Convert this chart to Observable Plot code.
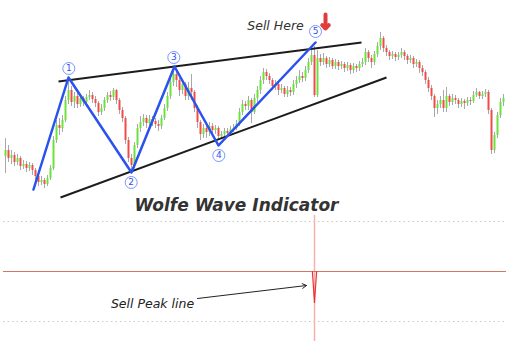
<!DOCTYPE html>
<html><head><meta charset="utf-8">
<script src="https://cdn.jsdelivr.net/npm/d3@7"></script>
<script src="https://cdn.jsdelivr.net/npm/@observablehq/plot@0.6"></script>
<style>body{margin:0;background:#fff;} #chart svg{display:block;}</style>
</head><body><div id="chart"></div>
<script>
// Candles (bar index, price units)
const open = [44,50,42,45,38,42,34,36,32,35, 30,24,18,20,16,22,32,60,75,72, 80,100,110,98,104,96,102,98,103,105, 101,97,88,92,100,105,103,110,100,90, 82,60,42,35,55,72,78,82,77,81, 79,76,74,82,92,104,118,126,120,110, 116,104,112,108,92,78,66,72,68,74, 70,72,64,66,69,67,71,72,76,88, 96,94,100,88,102,110,120,128,124,120, 114,116,110,112,106,110,108,116,120,124, 122,130,138,145,105,142,138,142,136,140, 134,138,134,136,132,135,130,134,132,136, 138,148,142,138,146,154,162,152,148,144, 146,143,145,148,144,140,142,136,138,132, 128,120,112,104,92,96,100,92,104,98, 102,100,96,99,97,100,99,105,108,104, 106,108,90,50,65,85,98];
const close = [50,42,45,38,42,34,36,32,35,30, 24,18,20,16,22,32,60,75,72,80, 100,110,98,104,96,102,98,103,105,101, 97,88,92,100,105,103,110,100,90,82, 60,42,35,55,72,78,82,77,81,79, 76,74,82,92,104,118,126,120,110,116, 104,112,108,92,78,66,72,68,74,70, 72,64,66,69,67,71,72,76,88,96, 94,100,88,102,110,120,128,124,120,114, 116,110,112,106,110,108,116,120,124,122, 130,138,145,105,142,138,142,136,140,134, 138,134,136,132,135,130,134,132,136,138, 148,142,138,146,154,162,152,148,144,146, 143,145,148,144,140,142,136,138,132,128, 120,112,104,92,96,100,92,104,98,102, 100,96,99,97,100,99,105,108,104,106, 108,90,50,65,85,98,102];
const high = [62,55,50,48,46,44,40,39,38,37, 32,27,24,22,25,35,64,80,82,85, 104,118,114,108,107,106,104,106,110,108, 104,99,96,103,108,109,112,111,102,93, 84,63,46,58,76,84,86,85,85,84, 82,80,85,96,108,122,132,129,122,120, 118,118,126,110,95,80,76,76,78,77, 75,74,69,72,72,74,76,80,92,100, 99,104,102,106,114,124,132,131,127,122, 120,118,116,114,114,113,120,124,130,128, 134,142,150,154,150,146,147,144,143,142, 141,140,139,138,138,137,137,136,139,142, 152,150,145,149,158,168,164,155,150,149, 148,148,152,150,146,145,144,141,140,135, 130,123,115,106,100,104,110,113,106,106, 105,102,102,101,103,103,109,112,109,109, 111,110,92,68,88,102,106];
const low = [27,38,36,34,35,30,31,28,29,25, 20,14,15,12,14,20,30,57,65,68, 78,96,94,92,92,93,94,95,100,97, 93,84,85,89,97,99,100,96,86,78, 56,38,28,32,52,68,74,72,73,74, 72,69,71,80,89,101,114,113,104,106, 100,100,100,88,72,60,62,62,64,66, 66,60,61,63,63,64,68,70,74,85, 90,90,77,86,98,106,116,120,116,110, 110,105,107,103,103,104,105,112,117,118, 119,127,135,103,103,134,135,132,133,131, 131,130,131,128,129,126,127,128,129,133, 135,138,132,135,143,150,148,144,140,141, 139,140,142,140,136,137,132,133,127,124, 116,108,100,83,86,92,88,88,94,95, 96,92,93,91,94,95,97,103,101,101, 103,86,46,47,62,82,94];

// Wolfe wave pivots
const waveI = [9.33, 21, 42, 56.33, 71, 103.33];
const waveP = [11, 123, 28, 134, 55, 158];
// channel lines (upper, lower)
const chanI1 = [17.67, 18.33], chanP1 = [119, 3];
const chanI2 = [118.67, 127],  chanP2 = [158, 123];
// pivot labels
const labelText = ["1","2","3","4","5"];
const labelI = [21.1, 41.9, 56.1, 71.1, 103.33];
const labelP = [132, 18, 143, 45, 169];
// indicator (lower pane)
const peakI = [102.3, 103, 103.7];
const peakV = [0, -0.62, 0];
const sellBar = 103;
const levels = [1, -1];

const candles = close.map((c, i) => ({i, open: open[i], high: high[i], low: low[i], close: c}));
const wave = waveI.map((x, k) => ({i: x, p: waveP[k]}));
const chans = chanI1.map((x, k) => ({x1: x, y1: chanP1[k], x2: chanI2[k], y2: chanP2[k]}));
const labels = labelText.map((t, k) => ({t, i: labelI[k], p: labelP[k]}));
const peak = peakI.map((x, k) => ({i: x, v: peakV[k]}));

const xDomain = [-5/3, 169];
const font = "DejaVu Sans";

const mainChart = Plot.plot({
  width: 512, height: 215, margin: 0,
  x: {domain: xDomain, axis: null},
  y: {domain: [-15, 200], axis: null},
  style: {fontFamily: font, background: "#fff"},
  marks: [
    Plot.ruleX(candles, {x: "i", y1: "low", y2: "high", stroke: "#a8a8a8", strokeWidth: 1}),
    Plot.ruleX(candles, {x: "i", y1: "open", y2: "close", stroke: d => d.close >= d.open ? "#6ae23e" : "#f04a4a", strokeWidth: 2}),
    Plot.link(chans, {x1: "x1", y1: "y1", x2: "x2", y2: "y2", stroke: "#1c1c1c", strokeWidth: 2}),
    Plot.line(wave, {x: "i", y: "p", stroke: "#2a52ee", strokeWidth: 2.5}),
    Plot.dot(labels, {x: "i", y: "p", r: 6, fill: "#fff", stroke: "#5a7cff", strokeWidth: 0.8}),
    Plot.text(labels, {x: "i", y: "p", text: "t", fontSize: 9, fill: "#3050f0"}),
    Plot.text(["Sell Here"], {x: 90, y: 175, text: d => d, fontSize: 12.5, fontStyle: "italic", fill: "#333"}),
    Plot.arrow([0], {x1: 106.67, y1: 186, x2: 106.67, y2: 172, stroke: "#e03c3c", strokeWidth: 4, headAngle: 90, headLength: 8}),
    Plot.text(["Wolfe Wave Indicator"], {x: 77, y: -5, text: d => d, fontSize: 17, fontWeight: "bold", fontStyle: "italic", fill: "#333"})
  ]
});

const indChart = Plot.plot({
  width: 512, height: 126, margin: 0,
  x: {domain: xDomain, axis: null},
  y: {domain: [-1.4, 1.12], axis: null},
  style: {fontFamily: font, background: "#fff"},
  marks: [
    Plot.ruleY(levels, {stroke: "#c8c8c8", strokeDasharray: "1.5,3", insetLeft: 3, insetRight: 6}),
    Plot.ruleX([sellBar], {stroke: "#f5b0b0", strokeWidth: 1.5}),
    Plot.ruleY([0], {stroke: "#d07868", strokeWidth: 1, insetLeft: 3, insetRight: 6}),
    Plot.line(peak, {x: "i", y: "v", stroke: "#ee3030", strokeWidth: 1.2}),
    Plot.arrow([0], {x1: 64, y1: -0.54, x2: 100.33, y2: -0.28, stroke: "#222", strokeWidth: 1, headLength: 7}),
    Plot.text(["Sell Peak line"], {x: 49, y: -0.64, text: d => d, fontSize: 12.5, fontStyle: "italic", fill: "#222"})
  ]
});

const el = document.getElementById("chart");
el.append(mainChart, indChart);
</script>
</body></html>
